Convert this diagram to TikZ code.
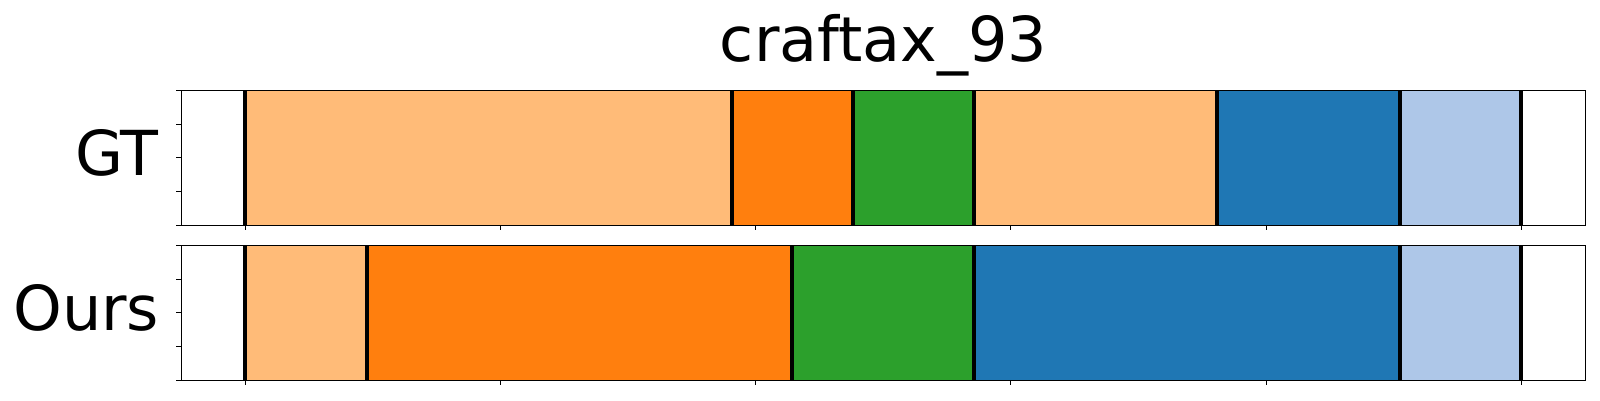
\documentclass[tikz,border=0pt]{standalone}
\usepackage{fontspec}
\setmainfont{DejaVu Sans}
\definecolor{lorange}{HTML}{FFBB78}
\definecolor{dorange}{HTML}{FF7F0E}
\definecolor{tgreen}{HTML}{2CA02C}
\definecolor{tblue}{HTML}{1F77B4}
\definecolor{lblue}{HTML}{AEC7E8}
\begin{document}
\begin{tikzpicture}[x=1pt,y=-1pt,
  seg/.style={draw=none},
  sepline/.style={line width=4pt,black},
  frame/.style={line width=1.07pt,black},
  tickmark/.style={line width=1.07pt,black},
  label/.style={inner sep=0pt,font=\fontsize{62}{74}\selectfont}]
\useasboundingbox (0,0) rectangle (1600,400);
\fill[white] (0,0) rectangle (1600,400);
% GT row
\def\ta{90.3}\def\tb{225.3}
\fill[lorange] (245,\ta) rectangle (731.5,\tb);
\fill[dorange] (731.5,\ta) rectangle (853,\tb);
\fill[tgreen] (853,\ta) rectangle (974,\tb);
\fill[lorange] (974,\ta) rectangle (1217,\tb);
\fill[tblue] (1217,\ta) rectangle (1400,\tb);
\fill[lblue] (1400,\ta) rectangle (1521.3,\tb);
\foreach \x in {245.3,731.5,853,974,1217,1400,1521.3}
  \draw[sepline] (\x,\ta) -- (\x,\tb);
% Ours row
\def\ba{245.3}\def\bb{380.3}
\fill[lorange] (245,\ba) rectangle (366.8,\bb);
\fill[dorange] (366.8,\ba) rectangle (792,\bb);
\fill[tgreen] (792,\ba) rectangle (974,\bb);
\fill[tblue] (974,\ba) rectangle (1400,\bb);
\fill[lblue] (1400,\ba) rectangle (1521.3,\bb);
\foreach \x in {245.3,366.8,792,974,1400,1521.3}
  \draw[sepline] (\x,\ba) -- (\x,\bb);
% frames
\draw[frame] (181.3,\ta) rectangle (1585.7,\tb);
\draw[frame] (181.3,\ba) rectangle (1585.7,\bb);
% ticks
\foreach \x in {245.3,500.5,755.7,1010.9,1266.1,1521.3} {
  \draw[tickmark] (\x,\tb) -- (\x,\tb+5);
  \draw[tickmark] (\x,\bb) -- (\x,\bb+5);
}
\foreach \f in {0,0.25,0.5,0.75,1} {
  \draw[tickmark] (181.3,{\ta+\f*135}) -- (176.3,{\ta+\f*135});
  \draw[tickmark] (181.3,{\ba+\f*135}) -- (176.3,{\ba+\f*135});
}
% labels
\node[label,anchor=base] (title) at (883.5,61.7) {craftax\_93};
\node[label,anchor=base east] (gt) at (159,175) {GT};
\node[label,anchor=base east] (ours) at (159.5,330) {Ours};
\end{tikzpicture}
\end{document}
